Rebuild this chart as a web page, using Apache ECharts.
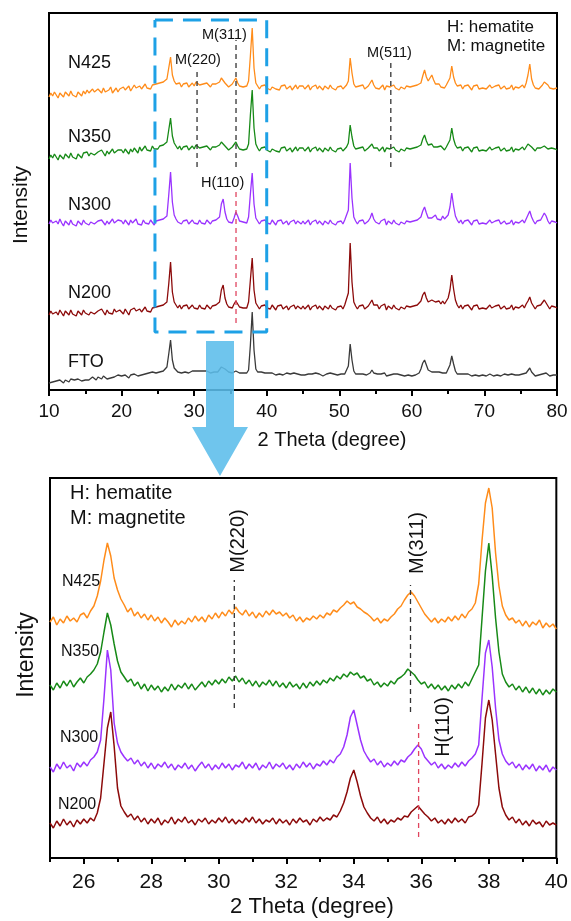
<!DOCTYPE html>
<html>
<head>
<meta charset="utf-8">
<script src="https://cdn.jsdelivr.net/npm/echarts@6/dist/echarts.min.js"></script>
<style>
  html, body { margin: 0; padding: 0; background: #fff; }
  #chart { width: 571px; height: 921px; }
</style>
</head>
<body>
<div id="chart"></div>
<script>
// ---------- Full scan, 10–80° 2θ, 0.25° step (offset-stacked intensity, a.u.) ----------
const FULL_START = 10, FULL_STEP = 0.25;

const fullN425 = [
  293,297,294,298,295,292,297,296,293,298,296,294,299,295,297,293,298,296,294,299,
  296,300,297,295,301,298,296,301,299,297,302,298,296,300,303,297,299,302,298,301,
  299,303,300,302,304,299,301,305,302,300,304,301,303,306,302,304,301,305,303,306,
  304,307,305,308,306,311,322,333,315,309,306,304,307,303,306,304,307,303,305,307,
  304,308,309,305,303,306,304,307,305,303,306,304,306,305,308,312,311,307,305,303,
  305,306,309,312,307,304,306,303,305,304,309,334,362,322,307,304,301,304,302,305,
  302,304,300,303,305,301,303,300,304,302,305,301,303,304,300,302,305,301,304,302,
  304,301,303,305,300,303,302,305,301,304,302,300,304,303,301,305,302,304,300,303,
  302,304,301,303,305,309,332,317,306,303,301,304,302,305,301,303,304,306,310,305,
  302,304,301,303,305,300,304,302,303,301,305,302,304,300,303,305,301,304,302,303,
  301,304,302,305,303,307,314,320,313,309,311,315,310,306,304,306,303,305,302,305,
  306,312,324,313,307,304,302,305,301,304,302,305,303,300,304,302,305,301,303,302,
  304,301,303,305,302,300,304,302,305,301,303,304,301,303,302,305,300,303,304,302,
  303,305,302,307,315,326,311,305,302,304,301,303,305,308,310,305,302,304,301,303,
  302
];
const fullN350 = [
  231,235,232,236,233,230,235,234,231,236,234,232,237,233,235,231,236,234,232,237,
  235,238,234,237,239,235,233,238,236,240,237,234,239,236,238,241,237,235,240,238,
  240,237,241,239,236,241,238,242,240,237,243,239,241,244,240,242,239,244,241,243,
  241,244,242,245,243,248,260,272,254,247,244,241,244,240,243,241,244,240,242,244,
  241,245,246,242,240,243,241,244,242,240,243,241,243,242,245,248,247,244,242,240,
  242,243,245,248,244,241,243,240,242,241,246,275,300,262,246,242,239,242,240,243,
  240,242,238,241,243,239,241,238,242,240,243,239,241,242,238,240,243,239,242,240,
  242,239,241,243,238,241,240,243,239,242,240,238,242,241,239,243,240,242,238,241,
  240,242,239,241,243,247,265,253,244,241,239,242,240,243,239,241,242,244,246,242,
  240,242,239,241,243,238,242,240,241,239,243,240,242,238,241,243,239,242,240,241,
  239,242,240,243,241,245,251,255,249,245,244,246,243,241,243,241,244,242,240,243,
  245,250,262,251,245,242,240,243,239,242,240,243,241,238,242,240,243,239,241,240,
  242,239,241,243,240,238,242,240,243,239,241,242,239,241,240,243,238,241,242,240,
  241,243,240,243,246,248,243,241,239,242,240,242,241,244,245,241,239,242,240,241,
  240
];
const fullN300 = [
  166,170,167,165,169,166,171,167,164,169,168,165,170,166,168,164,169,167,165,170,
  167,169,165,168,170,166,164,169,167,170,168,165,169,166,168,171,167,165,170,168,
  169,166,170,168,165,170,167,169,171,166,168,165,170,167,169,166,170,168,165,169,
  167,170,168,171,169,174,195,218,188,175,171,168,170,166,169,167,170,166,168,170,
  167,169,166,170,167,169,166,170,168,166,169,167,170,168,173,186,191,178,171,168,
  170,167,172,178,174,169,171,168,170,167,173,196,217,186,172,169,166,169,167,170,
  167,169,166,170,168,165,169,167,170,166,168,169,165,168,167,170,166,169,168,166,
  169,166,168,170,165,168,167,170,166,169,167,165,169,168,166,170,167,169,165,168,
  167,169,166,170,171,180,227,192,173,169,166,169,167,170,166,168,169,172,177,171,
  168,170,166,169,167,171,165,169,168,166,170,167,169,165,168,170,166,169,167,168,
  166,169,167,170,168,173,179,183,177,172,170,172,171,175,171,173,170,174,171,172,
  175,183,197,184,174,170,167,170,166,169,167,170,168,165,169,167,170,166,168,167,
  169,166,168,170,167,165,169,167,170,166,168,169,166,168,167,170,165,168,169,167,
  168,170,167,171,175,179,173,169,166,169,167,170,172,177,174,169,166,169,167,168,
  167
];
const fullN200 = [
  75,79,76,74,78,75,80,77,74,79,77,75,80,76,78,74,79,77,75,80,
  77,79,75,78,80,76,74,79,77,81,78,75,80,77,79,76,81,78,76,80,
  79,76,81,78,75,80,78,82,79,77,81,78,80,83,79,81,78,82,80,83,
  81,84,82,85,83,88,106,128,98,88,85,82,85,81,84,82,85,81,83,85,
  82,84,81,85,82,84,81,85,83,81,84,82,85,83,88,100,105,92,86,83,
  85,82,86,89,87,83,85,82,84,82,88,110,132,100,87,84,81,84,82,85,
  82,84,81,85,83,80,84,82,85,81,83,84,80,83,82,85,81,84,83,81,
  84,81,83,85,80,83,82,85,81,84,82,80,84,83,81,85,82,84,80,83,
  82,84,81,85,86,97,147,108,88,84,81,84,82,85,81,83,84,86,90,85,
  83,85,81,84,82,86,80,84,83,81,85,82,84,80,83,85,81,84,82,83,
  81,84,82,85,84,89,95,98,92,88,87,90,92,88,86,89,86,89,86,88,
  92,100,115,101,90,85,82,85,81,84,82,85,83,80,84,82,85,81,83,82,
  84,81,83,85,82,80,84,82,85,81,83,84,81,83,82,85,80,83,84,82,
  83,85,82,86,89,93,87,84,81,84,82,85,86,90,88,84,81,84,82,83,
  82
];
const fullFTO = [
  7,9,8,6,9,8,10,8,7,10,9,8,11,9,10,8,11,10,9,11,
  10,12,10,11,13,11,10,13,12,11,14,12,11,13,12,14,13,12,15,13,
  14,13,15,14,12,15,14,16,15,14,16,15,17,16,15,17,16,18,16,17,
  17,18,17,19,19,23,36,50,30,22,20,18,19,17,19,18,19,17,18,19,
  18,19,17,19,18,19,17,19,18,17,19,18,19,18,20,23,25,21,19,18,
  18,17,18,19,18,17,18,17,18,17,20,45,78,40,21,18,16,18,16,17,
  16,17,15,17,16,15,17,16,17,15,16,17,15,16,16,17,15,16,17,15,
  16,15,17,16,14,16,15,17,15,16,15,14,16,16,15,17,15,16,14,15,
  15,16,14,16,17,24,46,30,19,16,14,16,15,16,14,15,16,17,20,17,
  15,16,14,16,15,17,14,16,15,14,16,15,16,14,15,16,14,16,15,16,
  14,16,15,17,17,21,27,30,25,20,18,18,17,18,17,18,16,17,15,17,
  19,25,34,26,19,16,15,16,14,16,15,16,15,14,16,15,16,14,15,15,
  16,14,15,16,15,14,16,15,16,14,15,16,14,15,15,16,14,15,16,15,
  15,16,15,17,19,22,18,16,14,16,15,16,16,18,17,15,14,16,15,16,
  15
];

// ---------- Fine scan, 25–40° 2θ, 0.1° step ----------
const ZOOM_START = 25, ZOOM_STEP = 0.1;

const zoomN425 = [
  236,241,233,239,235,242,237,240,236,243,
  245,240,247,252,262,277,298,315,302,280,
  268,259,253,246,250,242,246,240,244,238,
  243,237,241,235,240,236,231,238,233,237,
  234,240,236,242,237,241,236,243,239,245,
  240,246,242,248,244,251,246,243,248,242,
  246,240,245,241,247,243,248,244,246,242,
  245,240,243,237,241,236,240,238,242,239,
  243,240,245,243,248,246,250,253,257,254,
  256,251,249,246,244,241,237,240,235,239,
  237,241,244,249,252,258,263,266,262,256,
  250,244,240,236,240,235,239,236,241,237,
  242,238,244,240,246,249,255,274,318,355,
  370,350,305,272,252,243,238,240,235,238,
  232,237,231,236,233,238,230,235,231,234,
  229
];
const zoomN350 = [
  173,168,175,170,177,172,178,171,176,180,
  175,181,184,188,194,206,226,245,233,214,
  197,186,181,176,179,172,176,169,174,167,
  173,168,172,166,171,167,174,168,173,170,
  175,169,174,168,172,176,171,177,173,178,
  174,179,175,181,177,182,176,180,174,178,
  172,177,171,176,173,178,172,177,171,175,
  170,176,171,174,169,175,170,176,172,177,
  173,178,175,180,177,182,179,184,181,186,
  183,185,180,182,177,179,173,176,171,175,
  172,177,174,179,181,184,189,186,183,178,
  174,176,170,174,169,173,168,172,167,173,
  169,174,170,176,172,179,186,193,240,287,
  315,282,240,206,184,176,171,174,168,172,
  166,171,165,170,164,169,163,168,164,169,
  166
];
const zoomN300 = [
  91,86,94,89,96,90,93,87,95,91,
  96,92,98,101,106,118,160,208,188,135,
  115,106,101,97,100,94,98,92,96,90,
  95,89,94,91,96,90,94,88,93,90,
  95,89,93,87,92,96,90,94,88,93,
  89,95,90,94,88,93,91,96,89,94,
  90,95,88,93,90,96,89,94,91,95,
  89,93,88,94,90,96,91,95,89,94,
  92,97,93,98,95,101,104,111,123,141,
  148,133,118,107,101,96,99,93,97,91,
  95,92,97,93,98,96,101,104,109,113,
  109,101,97,93,96,90,94,89,93,90,
  95,91,96,92,97,100,104,113,160,205,
  218,191,150,118,104,97,93,96,90,94,
  88,93,89,94,87,92,88,93,86,91,
  88
];
const zoomN200 = [
  35,30,37,32,39,33,37,31,38,34,
  39,35,40,37,45,60,95,130,146,112,
  70,52,46,41,44,38,42,36,40,34,
  39,35,40,33,38,35,41,34,39,36,
  41,35,38,33,39,36,40,34,38,35,
  40,36,41,35,39,34,38,35,40,36,
  41,35,39,34,38,36,40,34,39,35,
  38,33,39,35,40,36,38,33,39,36,
  41,37,40,38,43,41,47,55,66,80,
  88,76,62,51,45,40,37,41,35,39,
  34,38,36,40,38,42,41,46,49,52,
  48,44,41,37,40,35,38,34,39,35,
  40,36,39,35,41,42,45,53,95,140,
  158,138,104,70,51,43,38,41,35,39,
  33,37,32,38,34,36,31,37,33,35,
  33
];

// Axis ticks
const FULL_TICKS = [10, 20, 30, 40, 50, 60, 70, 80];
const ZOOM_TICKS = [26, 28, 30, 32, 34, 36, 38, 40];
const ZOOM_MINOR = [25, 27, 29, 31, 33, 35, 37, 39];

// Reflection markers: 2θ position and vertical extent (a.u.)
const fullMagnetite = [[30.4, 223, 320], [35.77, 223, 350], [57.1, 223, 330]];
const fullHematite = [[35.77, 67, 200]];
const zoomMagnetite = [[30.46, 150, 278], [35.68, 146, 273]];
const zoomHematite = [[35.92, 21, 135]];

// Region of the full scan shown in the fine scan
const zoomBox = { x0: 24.6, x1: 40.0, y0: 58, y1: 370 };

const COLORS = { N425: '#ff8c1a', N350: '#178a17', N300: '#9a33ff', N200: '#8c0a0a', FTO: '#3a3a3a' };
const FONT = '"Liberation Sans", Arial, Helvetica, sans-serif';

function pairs(start, step, values) {
  return values.map((v, i) => [+(start + i * step).toFixed(2), v]);
}

function pattern(name, values, start, step, axis, width) {
  return {
    name: name, type: 'line', xAxisIndex: axis, yAxisIndex: axis === 0 ? 0 : 1,
    data: pairs(start, step, values), showSymbol: false, symbol: 'none',
    lineStyle: { color: COLORS[name], width: width }, silent: true, z: 3
  };
}

function marker(list, axisX, axisY, color) {
  return list.map(m => ({
    type: 'line', xAxisIndex: axisX, yAxisIndex: axisY, silent: true, symbol: 'none', z: 4,
    data: [[m[0], m[1]], [m[0], m[2]]],
    lineStyle: { color: color, width: 1.3, type: [5, 4] }
  }));
}

function label(text, x, y, size, rot, align) {
  return {
    type: 'text', x: x, y: y, rotation: rot || 0, z: 100, silent: true,
    style: { text: text, font: size + 'px ' + FONT, fill: '#111', align: align || 'left', verticalAlign: 'middle' }
  };
}

const chart = echarts.init(document.getElementById('chart'), null, { renderer: 'canvas' });

const axisCommon = {
  axisLine: { show: true, lineStyle: { color: '#000', width: 2 } },
  splitLine: { show: false }
};

chart.setOption({
  animation: false,
  backgroundColor: '#fff',
  grid: [
    { left: 49, top: 13, width: 508, height: 377, show: true, borderColor: '#000', borderWidth: 2, backgroundColor: 'transparent' },
    { left: 50, top: 478, width: 511, height: 380, show: true, borderColor: '#000', borderWidth: 2, backgroundColor: 'transparent' }
  ],
  xAxis: [
    Object.assign({}, axisCommon, {
      gridIndex: 0, type: 'value', min: 10, max: 80, interval: 10, position: 'bottom',
      axisTick: { show: true, length: 6, lineStyle: { color: '#000', width: 2 } },
      minorTick: { show: true, splitNumber: 2, length: 4, lineStyle: { color: '#000', width: 2 } },
      minorSplitLine: { show: false },
      axisLabel: { customValues: FULL_TICKS, margin: 12, color: '#111', fontSize: 19, fontFamily: FONT }
    }),
    Object.assign({}, axisCommon, {
      gridIndex: 1, type: 'value', min: 25, max: 40, position: 'bottom',
      axisTick: { show: true, customValues: ZOOM_TICKS, length: 6, lineStyle: { color: '#000', width: 2 } },
      axisLabel: { customValues: ZOOM_TICKS, margin: 14, color: '#111', fontSize: 21, fontFamily: FONT }
    }),
    {
      gridIndex: 1, type: 'value', min: 25, max: 40, position: 'bottom', offset: 0,
      axisLine: { show: false }, splitLine: { show: false },
      axisTick: { show: true, customValues: ZOOM_MINOR, length: 4, lineStyle: { color: '#000', width: 2 } },
      axisLabel: { show: false }
    }
  ],
  yAxis: [
    Object.assign({}, axisCommon, {
      gridIndex: 0, type: 'value', min: 0, max: 377,
      axisTick: { show: false }, axisLabel: { show: false }
    }),
    Object.assign({}, axisCommon, {
      gridIndex: 1, type: 'value', min: 0, max: 380,
      axisTick: { show: false }, axisLabel: { show: false }
    })
  ],
  series: [
    pattern('FTO', fullFTO, FULL_START, FULL_STEP, 0, 1.3),
    pattern('N200', fullN200, FULL_START, FULL_STEP, 0, 1.3),
    pattern('N300', fullN300, FULL_START, FULL_STEP, 0, 1.3),
    pattern('N350', fullN350, FULL_START, FULL_STEP, 0, 1.3),
    pattern('N425', fullN425, FULL_START, FULL_STEP, 0, 1.3),
    pattern('N200', zoomN200, ZOOM_START, ZOOM_STEP, 1, 1.5),
    pattern('N300', zoomN300, ZOOM_START, ZOOM_STEP, 1, 1.5),
    pattern('N350', zoomN350, ZOOM_START, ZOOM_STEP, 1, 1.5),
    pattern('N425', zoomN425, ZOOM_START, ZOOM_STEP, 1, 1.5),
    ...marker(fullMagnetite, 0, 0, '#333'),
    ...marker(fullHematite, 0, 0, '#e0455f'),
    ...marker(zoomMagnetite, 1, 1, '#333'),
    ...marker(zoomHematite, 1, 1, '#e0455f'),
    {
      type: 'line', xAxisIndex: 0, yAxisIndex: 0, silent: true, symbol: 'none', z: 5,
      data: [[zoomBox.x0, zoomBox.y1], [zoomBox.x1, zoomBox.y1], [zoomBox.x1, zoomBox.y0],
             [zoomBox.x0, zoomBox.y0], [zoomBox.x0, zoomBox.y1]],
      lineStyle: { color: '#1ea1e6', width: 3, type: [18, 10] }
    }
  ],
  graphic: [
    // arrow linking the boxed region to the fine scan
    {
      type: 'polygon', z: 90, silent: true,
      shape: { points: [[206, 341], [234, 341], [234, 427], [248, 427], [220, 476], [192, 427], [206, 427]] },
      style: { fill: '#5bbdea', opacity: 0.88 }
    },
    label('2 Theta (degree)', 332, 440, 20, 0, 'center'),
    label('2 Theta (degree)', 312, 907, 22, 0, 'center'),
    label('Intensity', 21, 205, 21, Math.PI / 2, 'center'),
    label('Intensity', 27, 655, 23, Math.PI / 2, 'center'),
    label('N425', 68, 63, 18), label('N350', 68, 137, 18), label('N300', 68, 205, 18),
    label('N200', 68, 293, 18), label('FTO', 68, 362, 18),
    label('M(220)', 175, 60, 14.5), label('M(311)', 202, 35, 14.5),
    label('M(511)', 367, 53, 14.5), label('H(110)', 201, 183, 14.5),
    label('H: hematite', 447, 27, 17), label('M: magnetite', 447, 46, 17),
    label('H: hematite', 70, 493, 20), label('M: magnetite', 70, 518, 20),
    label('N425', 62, 582, 16), label('N350', 61, 652, 16),
    label('N300', 60, 738, 16), label('N200', 58, 805, 16),
    label('M(220)', 238, 541, 20, Math.PI / 2, 'center'),
    label('M(311)', 417, 543, 20, Math.PI / 2, 'center'),
    label('H(110)', 443, 727, 20, Math.PI / 2, 'center')
  ]
});
</script>
</body>
</html>
